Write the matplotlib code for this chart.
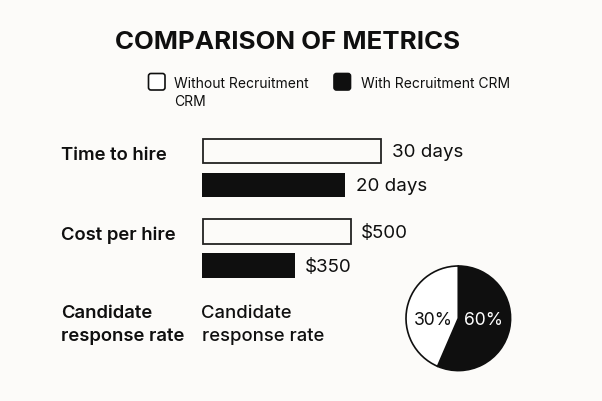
import matplotlib
matplotlib.use("Agg")
import matplotlib.pyplot as plt
from matplotlib.patches import FancyBboxPatch

plt.rcParams['font.family'] = ['Inter', 'DejaVu Sans']

title = "COMPARISON OF METRICS"
legend_labels = ["Without Recruitment\nCRM", "With Recruitment CRM"]
metrics = ["Time to hire", "Cost per hire"]
# bar lengths (the source is not drawn to a shared scale)
without_lengths = [178, 148.5]
with_lengths = [143, 93]
without_labels = ["30 days", "$500"]
with_labels = ["20 days", "$350"]
rate_label = "Candidate\nresponse rate"
pie_shares = [56.5, 43.5]
pie_labels = ["60%", "30%"]

INK = "#0F0F0F"
BG = "#FCFBF9"

fig = plt.figure(figsize=(6.02, 4.01), dpi=100, facecolor=BG)
ax = fig.add_axes([0, 0, 1, 1])
ax.set_xlim(0, 602)
ax.set_ylim(401, 0)
ax.axis("off")

ax.text(287.5, 42.5, title, ha="center", va="center", fontsize=18.65, fontweight="bold", color=INK)

# legend
ax.add_patch(FancyBboxPatch((148.5, 73.5), 16.5, 16.5, boxstyle="round,pad=0,rounding_size=2.5",
                            fc="white", ec=INK, lw=1.2))
ax.add_patch(FancyBboxPatch((334, 73.5), 16.5, 16.5, boxstyle="round,pad=0,rounding_size=2.5",
                            fc=INK, ec=INK, lw=1.2))
ax.text(174.5, 84, legend_labels[0].split("\n")[0], ha="left", va="center", fontsize=10.0, color=INK)
ax.text(174.5, 101.5, legend_labels[0].split("\n")[1], ha="left", va="center", fontsize=10.0, color=INK)
ax.text(361, 84, legend_labels[1], ha="left", va="center", fontsize=10.0, color=INK)

# bars
left = 202.5
h = 24.5
tops_without = [138.5, 219]
tops_with = [172.5, 253]
label_gap = [11, 10]
for i, m in enumerate(metrics):
    ax.barh(tops_without[i] + h / 2, without_lengths[i], height=h, left=left,
            color=BG, edgecolor="#222222", linewidth=1.3)
    ax.barh(tops_with[i] + h / 2, with_lengths[i], height=h, left=left - 0.5,
            color=INK, edgecolor="none")
    ax.text(left + without_lengths[i] + label_gap[i], tops_without[i] + h / 2 + 2,
            without_labels[i], va="center", ha="left", fontsize=13.5, color=INK)
    ax.text(left + with_lengths[i] + label_gap[i] - (0 if i == 0 else 1), tops_with[i] + h / 2 + 2,
            with_labels[i], va="center", ha="left", fontsize=13.5, color=INK)
    ax.text(61, [155.5, 235][i], m, va="center", ha="left", fontsize=13.3,
            fontweight="semibold", color=INK)

ax.text(61, 325, rate_label, va="center", ha="left", fontsize=13.3, fontweight="semibold",
        color=INK, linespacing=1.42)
ax.text(201.5, 325, rate_label, va="center", ha="left", fontsize=13.3, fontweight="medium",
        color=INK, linespacing=1.42)

# pie
r = 52.3
pax = fig.add_axes([(458.3 - r) / 602, 1 - (318.3 + r) / 401, 2 * r / 602, 2 * r / 401])
pax.pie(pie_shares, startangle=90, counterclock=False, colors=[INK, "white"],
        radius=1.0, wedgeprops=dict(edgecolor=INK, linewidth=1.2))
pax.set_xlim(-1.0, 1.0)
pax.set_ylim(-1.0, 1.0)
for a in [pax]:
    a.patch.set_alpha(0)
for w in pax.patches:
    w.set_clip_on(False)
pax.text(0.49, -0.04, pie_labels[0], color="white", ha="center", va="center", fontsize=12.6)
pax.text(-0.47, -0.04, pie_labels[1], color=INK, ha="center", va="center", fontsize=12.6)

fig.savefig("out.png", dpi=100, facecolor=BG)
